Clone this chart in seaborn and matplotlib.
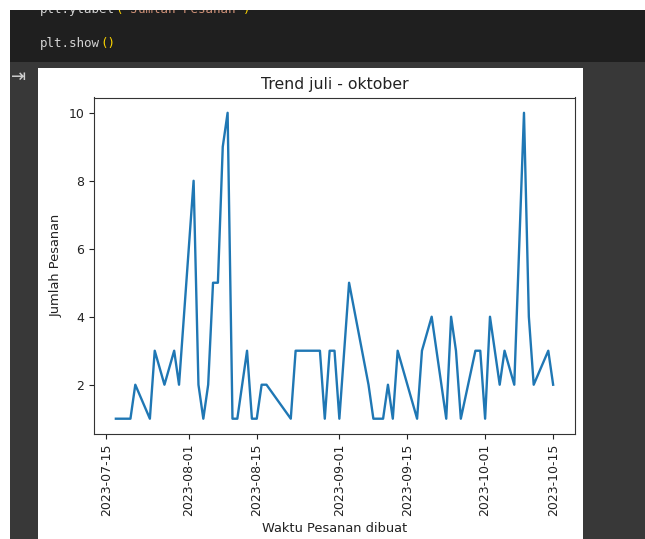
import matplotlib
matplotlib.use("Agg")
import matplotlib.pyplot as plt
import matplotlib.dates as mdates
from matplotlib.patches import Rectangle
import seaborn as sns
import pandas as pd

# order counts per day
dates = [
    "2023-07-17", "2023-07-20", "2023-07-21", "2023-07-24", "2023-07-25",
    "2023-07-27", "2023-07-29", "2023-07-30", "2023-08-02", "2023-08-03",
    "2023-08-04", "2023-08-05", "2023-08-06", "2023-08-07", "2023-08-08",
    "2023-08-09", "2023-08-10", "2023-08-11", "2023-08-13", "2023-08-14",
    "2023-08-15", "2023-08-16", "2023-08-17", "2023-08-22", "2023-08-23",
    "2023-08-28", "2023-08-29", "2023-08-30", "2023-08-31", "2023-09-01",
    "2023-09-03", "2023-09-07", "2023-09-08", "2023-09-10", "2023-09-11",
    "2023-09-12", "2023-09-13", "2023-09-17", "2023-09-18", "2023-09-20",
    "2023-09-23", "2023-09-24", "2023-09-25", "2023-09-26", "2023-09-29",
    "2023-09-30", "2023-10-01", "2023-10-02", "2023-10-04", "2023-10-05",
    "2023-10-07", "2023-10-09", "2023-10-10", "2023-10-11", "2023-10-14",
    "2023-10-15",
]
jumlah = [
    1, 1, 2, 1, 3,
    2, 3, 2, 8, 2,
    1, 2, 5, 5, 9,
    10, 1, 1, 3, 1,
    1, 2, 2, 1, 3,
    3, 1, 3, 3, 1,
    5, 2, 1, 1, 2,
    1, 3, 1, 3, 4,
    1, 4, 3, 1, 3,
    3, 1, 4, 2, 3,
    2, 10, 4, 2, 3,
    2,
]

W, H = 645, 539


def fx(px):
    return px / W


def fy(py):
    return 1 - py / H


def rect(fig, x0, y0, x1, y1, color, z=-10):
    fig.add_artist(Rectangle((fx(x0), fy(y1)), fx(x1) - fx(x0), fy(y0) - fy(y1),
                             transform=fig.transFigure, facecolor=color,
                             edgecolor="none", zorder=z))


df = pd.DataFrame({"Waktu Pesanan dibuat": pd.to_datetime(dates), "Jumlah Pesanan": jumlah})

fig = plt.figure(figsize=(W / 100, H / 100), dpi=100, facecolor="white")

# notebook surroundings
rect(fig, 10, 10, W, 62, "#1f1f1f")
rect(fig, 10, 62, W, H, "#383838")
rect(fig, 38, 68, 583, H, "white")

mono = "DejaVu Sans Mono"
cw = 7.52
segs = [("plt.ylabel", "#d4d4d4"), ("(", "#ffd700"), ("'Jumlah Pesanan'", "#ce9178"), (")", "#ffd700")]
x = 40
for s, c in segs:
    fig.text(fx(x), fy(13), s, color=c, family=mono, fontsize=9, va="baseline", zorder=2)
    x += cw * len(s)
rect(fig, 0, 0, W, 10, "white", z=5)
x = 40
for s, c in [("plt.show", "#d4d4d4"), ("()", "#ffd700")]:
    fig.text(fx(x), fy(47), s, color=c, family=mono, fontsize=9, va="baseline")
    x += cw * len(s)
fig.text(fx(19), fy(77), "\u21e5", color="#cfcfcf", fontsize=13, ha="center", va="center")

ax = fig.add_axes([fx(94), fy(434), fx(575) - fx(94), fy(97.5) - fy(434)])
sns.lineplot(data=df, x="Waktu Pesanan dibuat", y="Jumlah Pesanan", ax=ax, color="#1f77b4", linewidth=1.7)

ax.xaxis.set_major_locator(mdates.DayLocator(bymonthday=[1, 15]))
ax.xaxis.set_major_formatter(mdates.DateFormatter("%Y-%m-%d"))
ax.set_yticks([2, 4, 6, 8, 10])
ax.tick_params(labelsize=9.0, colors="#222222")
plt.setp(ax.get_xticklabels(), rotation=90)
ax.set_title("Trend juli - oktober", fontsize=11.3, color="#222222")
ax.set_xlabel("Waktu Pesanan dibuat", fontsize=9.4, color="#222222")
ax.set_ylabel("Jumlah Pesanan", fontsize=9.4, color="#222222")
for sp in ax.spines.values():
    sp.set_color("#333333")

fig.savefig("out.png", dpi=100, facecolor="white")
